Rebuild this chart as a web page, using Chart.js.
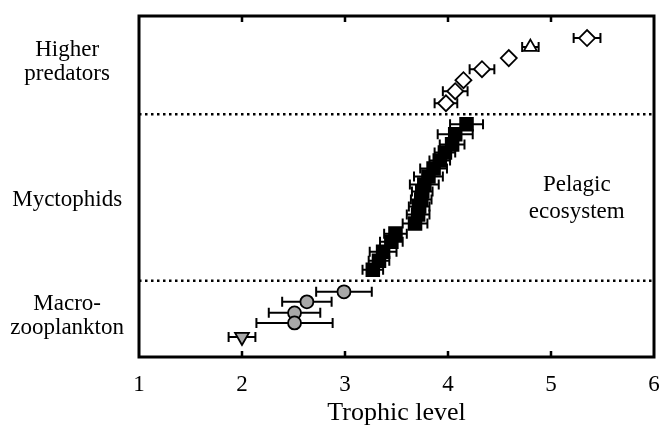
<!DOCTYPE html>
<html>
<head>
<meta charset="utf-8">
<script src="https://cdn.jsdelivr.net/npm/chart.js@4/dist/chart.umd.min.js"></script>
<style>
  html, body { margin: 0; padding: 0; background: #fff; }
</style>
</head>
<body>
<canvas id="chart" width="660" height="426"></canvas>
<script>
// Trophic level (x), row position (y) and +/- error for each group
const predTL = [3.98, 4.07, 4.15, 4.33, 4.59, 5.35];
const predRow = [25.3, 26.5, 27.6, 28.7, 29.8, 31.8];
const predErr = [0.11, 0.12, 0, 0.12, 0, 0.13];

const predTriTL = [4.80];
const predTriRow = [30.9];
const predTriErr = [0.08];

const myctTL = [4.18, 4.07, 4.04, 3.97, 3.92, 3.86, 3.81, 3.77, 3.75, 3.74, 3.72, 3.71, 3.68, 3.49, 3.45, 3.37, 3.33, 3.27];
const myctRow = [23.2, 22.2, 21.2, 20.4, 19.6, 18.8, 18.0, 17.2, 16.5, 15.7, 15.0, 14.2, 13.3, 12.3, 11.5, 10.5, 9.6, 8.7];
const myctErr = [0.16, 0.17, 0.12, 0.10, 0.10, 0.13, 0.14, 0.14, 0.10, 0.10, 0.10, 0.11, 0.12, 0.11, 0.11, 0.13, 0.10, 0.10];

const macroTL = [2.99, 2.63, 2.51, 2.51];
const macroRow = [6.5, 5.5, 4.4, 3.4];
const macroErr = [0.27, 0.24, 0.25, 0.37];

const macroTriTL = [2.00];
const macroTriRow = [2.0];
const macroTriErr = [0.13];

const groupLabels = [['Macro-', 'zooplankton'], 'Myctophids', ['Higher', 'predators']];
const groupRows = [4.1, 15.7, 29.4];
const dividerRows = [7.6, 24.2];
const xTicks = [1, 2, 3, 4, 5, 6];
const noteLines = ['Pelagic', 'ecosystem'];
const noteTL = 5.25;
const noteRows = [17.2, 14.5];

const serif = 'Liberation Serif, Times New Roman, serif';

function points(xs, ys) {
    return xs.map((x, i) => ({ x: x, y: ys[i] }));
}

function markerSet(xs, ys, errs, style, fill, radius, rotation) {
    return {
        type: 'scatter',
        data: points(xs, ys),
        errors: errs,
        pointStyle: style,
        pointRadius: radius,
        pointHoverRadius: radius,
        pointRotation: rotation || 0,
        pointBackgroundColor: fill,
        pointBorderColor: '#000',
        pointBorderWidth: 1.8
    };
}

function divider(row) {
    return {
        type: 'line',
        data: [{ x: 1, y: row }, { x: 6, y: row }],
        borderColor: '#000',
        borderWidth: 2.5,
        borderDash: [2.5, 3.5],
        pointRadius: 0,
        fill: false
    };
}

// error bars under the markers, frame with inward ticks, and the note text
const extras = {
    id: 'extras',
    beforeDatasetsDraw(chart) {
        const ctx = chart.ctx;
        const xs = chart.scales.x, ys = chart.scales.y;
        ctx.save();
        ctx.strokeStyle = '#000';
        ctx.lineWidth = 2;
        chart.data.datasets.forEach(ds => {
            if (!ds.errors) return;
            ds.data.forEach((p, i) => {
                const e = ds.errors[i];
                if (!e) return;
                const y = ys.getPixelForValue(p.y);
                const x0 = xs.getPixelForValue(p.x - e);
                const x1 = xs.getPixelForValue(p.x + e);
                ctx.beginPath();
                ctx.moveTo(x0, y); ctx.lineTo(x1, y);
                ctx.moveTo(x0, y - 5); ctx.lineTo(x0, y + 5);
                ctx.moveTo(x1, y - 5); ctx.lineTo(x1, y + 5);
                ctx.stroke();
            });
        });
        ctx.restore();
    },
    afterDraw(chart) {
        const ctx = chart.ctx;
        const a = chart.chartArea;
        const xs = chart.scales.x, ys = chart.scales.y;
        ctx.save();
        ctx.strokeStyle = '#000';
        ctx.lineWidth = 3;
        ctx.strokeRect(a.left, a.top, a.right - a.left, a.bottom - a.top);
        ctx.lineWidth = 2.5;
        xTicks.slice(1, -1).forEach(v => {
            const x = xs.getPixelForValue(v);
            ctx.beginPath();
            ctx.moveTo(x, a.bottom); ctx.lineTo(x, a.bottom - 6);
            ctx.moveTo(x, a.top); ctx.lineTo(x, a.top + 6);
            ctx.stroke();
        });
        ctx.fillStyle = '#000';
        ctx.font = '23px ' + serif;
        ctx.textAlign = 'center';
        ctx.textBaseline = 'middle';
        noteLines.forEach((t, i) => {
            ctx.fillText(t, xs.getPixelForValue(noteTL), ys.getPixelForValue(noteRows[i]));
        });
        ctx.restore();
    }
};

const ctx = document.getElementById('chart').getContext('2d');
const chart = new Chart(ctx, {
    data: {
        datasets: [
            divider(dividerRows[0]),
            divider(dividerRows[1]),
            markerSet(macroTL, macroRow, macroErr, 'circle', '#a8a8a8', 6.5),
            markerSet(macroTriTL, macroTriRow, macroTriErr, 'triangle', '#a8a8a8', 8, 180),
            markerSet(myctTL, myctRow, myctErr, 'rect', '#000', 9),
            markerSet(predTL, predRow, predErr, 'rectRot', '#fff', 8),
            markerSet(predTriTL, predTriRow, predTriErr, 'triangle', '#fff', 7.5)
        ]
    },
    options: {
        responsive: false,
        animation: false,
        layout: { autoPadding: false, padding: { top: 16, right: 6, left: 0, bottom: 0 } },
        plugins: {
            legend: { display: false },
            tooltip: { enabled: false }
        },
        scales: {
            x: {
                type: 'linear',
                min: 1,
                max: 6,
                afterBuildTicks: scale => { scale.ticks = xTicks.map(v => ({ value: v })); },
                afterFit: scale => { scale.height = 69; },
                // grid hidden; tickLength only pushes the labels down
                grid: { display: false, drawTicks: true, tickLength: 14 },
                border: { display: false },
                ticks: {
                    color: '#000',
                    padding: 0,
                    font: { family: serif, size: 23 }
                },
                title: {
                    display: true,
                    text: 'Trophic level',
                    color: '#000',
                    padding: { top: 0, bottom: 0 },
                    font: { family: serif, size: 26, lineHeight: 1 }
                }
            },
            y: {
                type: 'linear',
                min: 0,
                max: 34,
                afterBuildTicks: scale => { scale.ticks = groupRows.map(v => ({ value: v })); },
                afterFit: scale => {
                    scale.width = 139;
                    scale.paddingTop = 0;
                    scale.paddingBottom = 0;
                },
                grid: { display: false, drawTicks: false },
                border: { display: false },
                ticks: {
                    color: '#000',
                    crossAlign: 'center',
                    padding: 15,
                    font: { family: serif, size: 23, lineHeight: 1.05 },
                    callback: (v, i) => groupLabels[i]
                }
            }
        }
    },
    plugins: [extras]
});
</script>
</body>
</html>
